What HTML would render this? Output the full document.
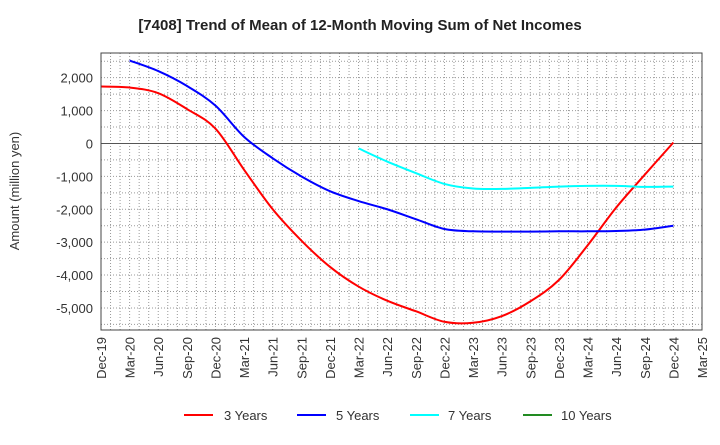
<!DOCTYPE html>
<html><head><meta charset="utf-8"><style>
body{margin:0;background:#fff;}
svg{font-family:"Liberation Sans",sans-serif;}
</style></head><body>
<svg id="c" width="720" height="440" xmlns="http://www.w3.org/2000/svg">
<text x="360" y="30" text-anchor="middle" font-size="15" font-weight="bold" fill="#222">[7408]  Trend of Mean of 12-Month Moving Sum of Net Incomes</text>
<text transform="translate(19,191) rotate(-90)" text-anchor="middle" font-size="13" fill="#333">Amount (million yen)</text>
<g id="grid"></g><g id="series"></g><g id="axes"></g>
<g>
<g><line x1="184" y1="415" x2="213" y2="415" stroke="#f00" stroke-width="2"/><text x="224" y="420" font-size="13" fill="#333">3 Years</text></g>
<g><line x1="297" y1="415" x2="326" y2="415" stroke="#00f" stroke-width="2"/><text x="336" y="420" font-size="13" fill="#333">5 Years</text></g>
<g><line x1="410" y1="415" x2="439" y2="415" stroke="#0ff" stroke-width="2"/><text x="448" y="420" font-size="13" fill="#333">7 Years</text></g>
<g><line x1="523" y1="415" x2="552" y2="415" stroke="#228b22" stroke-width="2"/><text x="561" y="420" font-size="13" fill="#333">10 Years</text></g>
</g>
</svg>
<script>
const xLabels=["Dec-19","Mar-20","Jun-20","Sep-20","Dec-20","Mar-21","Jun-21","Sep-21","Dec-21","Mar-22","Jun-22","Sep-22","Dec-22","Mar-23","Jun-23","Sep-23","Dec-23","Mar-24","Jun-24","Sep-24","Dec-24","Mar-25"];
const yTicks=[2000,1000,0,-1000,-2000,-3000,-4000,-5000];
const yTickLabels=["2,000","1,000","0","-1,000","-2,000","-3,000","-4,000","-5,000"];
// values per quarter index (0 = Dec-19)
const s3Start=0;
const s3=[1730,1700,1530,1050,450,-800,-2000,-2950,-3750,-4350,-4780,-5100,-5420,-5450,-5250,-4800,-4150,-3100,-1950,-950,30];
const s5Start=1;
const s5=[2520,2200,1750,1150,200,-450,-1000,-1450,-1750,-2000,-2300,-2600,-2670,-2680,-2680,-2670,-2670,-2660,-2620,-2500];
const s7Start=9;
const s7=[-150,-550,-900,-1230,-1370,-1380,-1350,-1310,-1290,-1290,-1320,-1310];
const s10Start=0;
const s10=[];
const L=101,R=702,T=53,B=330,yMax=2750,yMin=-5670;
const X=q=>L+q*(R-L)/21;
const Y=v=>T+(yMax-v)*(B-T)/(yMax-yMin);
const NS="http://www.w3.org/2000/svg";
function mk(tag,attrs,parent){const e=document.createElementNS(NS,tag);for(const k in attrs)e.setAttribute(k,attrs[k]);parent.appendChild(e);return e;}
const grid=document.getElementById('grid'),axes=document.getElementById('axes'),ser=document.getElementById('series');
for(let m=1;m<63;m++){const x=L+m*(R-L)/63;const l=mk('line',{x1:x,x2:x,y1:T,y2:B,stroke:'#999','stroke-width':1,'stroke-dasharray':'1,2'},grid);

}
for(let v=2500;v>=-5500;v-=500){const y=Y(v);const l=mk('line',{x1:L,x2:R,y1:y,y2:y,stroke:v===0?'#555':'#999','stroke-width':1,'stroke-dasharray':v===0?'':'1,2'},grid);

}
yTicks.forEach((v,i)=>{const t=mk('text',{x:L-8,y:Y(v)+5,'text-anchor':'end','font-size':13,fill:'#333'},axes);t.textContent=yTickLabels[i];

});
xLabels.forEach((s,i)=>{const x=X(i);const t=mk('text',{transform:`translate(${x+5},${B+7}) rotate(-90)`,'text-anchor':'end','font-size':13,fill:'#333'},axes);t.textContent=s;

});
const fr=mk('rect',{x:L,y:T,width:R-L,height:B-T,fill:'none',stroke:'#444','stroke-width':1},axes);


function path(vals,start,color,name){if(!vals.length)return;const p=vals.map((v,i)=>[X(start+i),Y(v)]);let d=`M${p[0][0]},${p[0][1]}`;
for(let i=0;i<p.length-1;i++){const p0=p[i-1]||p[i],p1=p[i],p2=p[i+1],p3=p[i+2]||p2;
d+=` C${p1[0]+(p2[0]-p0[0])/6},${p1[1]+(p2[1]-p0[1])/6} ${p2[0]-(p3[0]-p1[0])/6},${p2[1]-(p3[1]-p1[1])/6} ${p2[0]},${p2[1]}`;}
const e=mk('path',{d:d,fill:'none',stroke:color,'stroke-width':2},ser);

}
path(s3,s3Start,'#f00','line-3-years');
path(s5,s5Start,'#00f','line-5-years');
path(s7,s7Start,'#0ff','line-7-years');
path(s10,s10Start,'#228b22','line-10-years');
</script>
</body></html>
